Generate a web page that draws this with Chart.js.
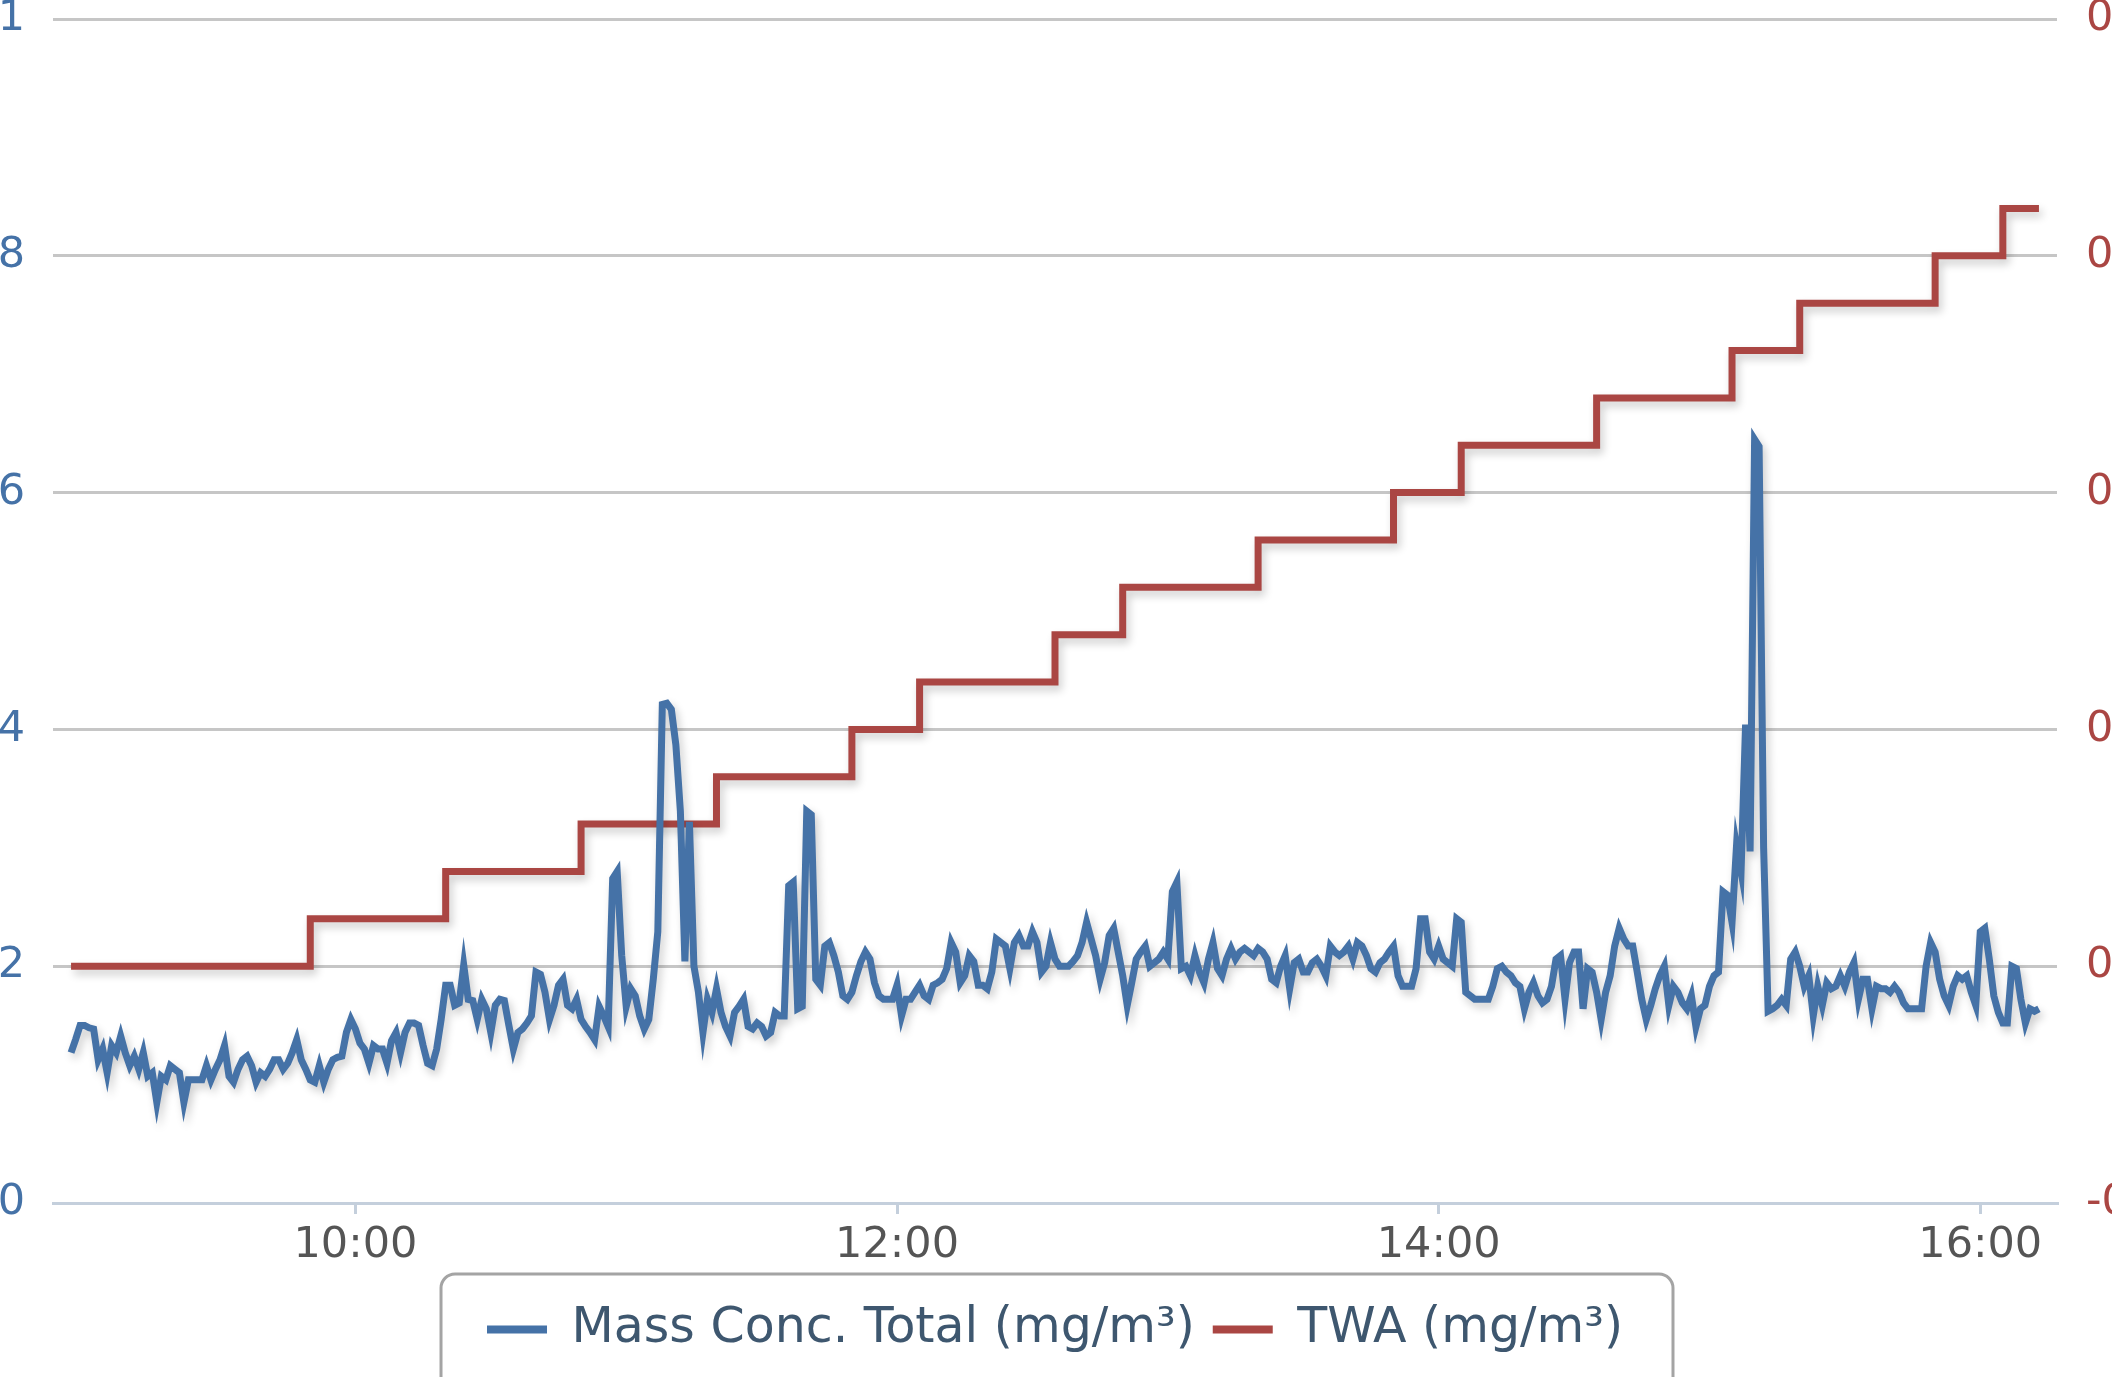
<!DOCTYPE html>
<html>
<head>
<meta charset="utf-8">
<script src="https://cdn.jsdelivr.net/npm/chart.js@4.4.1/dist/chart.umd.min.js"></script>
<style>
  html, body { margin: 0; padding: 0; background: #fff; overflow: hidden; width: 2112px; height: 1377px; }
  #wrap { position: absolute; left: -107px; top: 0; width: 2324px; height: 1377px; }
</style>
</head>
<body>
<div id="wrap"><canvas id="massChart"></canvas></div>
<script>
// one reading per minute, first one at massStart
const massStart = "08:57";
const massValues = [
  0.0127, 0.0138, 0.0150, 0.0150, 0.0148, 0.0147, 0.0121, 0.0130, 0.0110, 0.0133,
  0.0127, 0.0141, 0.0127, 0.0116, 0.0124, 0.0113, 0.0127, 0.0107, 0.0110, 0.0085,
  0.0107, 0.0104, 0.0116, 0.0113, 0.0110, 0.0085, 0.0104, 0.0104, 0.0104, 0.0104,
  0.0116, 0.0104, 0.0113, 0.0121, 0.0133, 0.0107, 0.0102, 0.0113, 0.0121, 0.0124,
  0.0116, 0.0102, 0.0110, 0.0107, 0.0113, 0.0121, 0.0121, 0.0113, 0.0118, 0.0127,
  0.0138, 0.0121, 0.0113, 0.0104, 0.0102, 0.0116, 0.0102, 0.0113, 0.0121, 0.0123,
  0.0124, 0.0144, 0.0155, 0.0147, 0.0135, 0.0130, 0.0118, 0.0133, 0.0130, 0.0130,
  0.0118, 0.0137, 0.0144, 0.0127, 0.0144, 0.0152, 0.0152, 0.0150, 0.0133, 0.0118,
  0.0116, 0.0130, 0.0155, 0.0184, 0.0184, 0.0167, 0.0169, 0.0201, 0.0172, 0.0171,
  0.0155, 0.0172, 0.0164, 0.0144, 0.0167, 0.0172, 0.0171, 0.0150, 0.0130, 0.0144,
  0.0147, 0.0152, 0.0158, 0.0195, 0.0193, 0.0178, 0.0155, 0.0167, 0.0184, 0.0189,
  0.0167,
  0.0164, 0.0172, 0.0155, 0.0149, 0.0144, 0.0138, 0.0166, 0.0158, 0.0149, 0.0274,
  0.0280, 0.0209, 0.0166, 0.0181, 0.0175, 0.0158, 0.0147, 0.0155, 0.0189, 0.0229,
  0.0421, 0.0422, 0.0417, 0.0387, 0.0331, 0.0204, 0.0322, 0.0200, 0.0178, 0.0144,
  0.0172, 0.0161, 0.0181, 0.0161, 0.0149, 0.0141, 0.0161, 0.0166, 0.0172, 0.0149,
  0.0147, 0.0152, 0.0149, 0.0141, 0.0144, 0.0161, 0.0158, 0.0158, 0.0268, 0.0271,
  0.0164, 0.0166, 0.0331, 0.0328, 0.0189, 0.0184, 0.0217, 0.0220, 0.0209, 0.0195,
  0.0175, 0.0172, 0.0178, 0.0192, 0.0204, 0.0212, 0.0206, 0.0186, 0.0175, 0.0172,
  0.0172, 0.0172, 0.0184, 0.0158, 0.0172, 0.0172, 0.0178, 0.0184, 0.0175, 0.0172,
  0.0184, 0.0186, 0.0189, 0.0198, 0.0220, 0.0212, 0.0186, 0.0192, 0.0209, 0.0204,
  0.0184, 0.0184, 0.0181, 0.0195, 0.0223, 0.0220, 0.0217, 0.0198, 0.0220, 0.0226,
  0.0217, 0.0217, 0.0229, 0.0220, 0.0195, 0.0200, 0.0220, 0.0206, 0.0200, 0.0200,
  0.0200, 0.0204, 0.0209,
  0.0220, 0.0237, 0.0223, 0.0209, 0.0189, 0.0203, 0.0226, 0.0232, 0.0212, 0.0192,
  0.0167, 0.0186, 0.0206, 0.0212, 0.0217, 0.0200, 0.0203, 0.0206, 0.0212, 0.0206,
  0.0263, 0.0271, 0.0198, 0.0200, 0.0192, 0.0209, 0.0195, 0.0186, 0.0206, 0.0220,
  0.0198, 0.0192, 0.0206, 0.0215, 0.0206, 0.0212, 0.0215, 0.0212, 0.0209, 0.0215,
  0.0212, 0.0206, 0.0189, 0.0186, 0.0200, 0.0209, 0.0181, 0.0203, 0.0206, 0.0195,
  0.0195, 0.0203, 0.0206, 0.0200, 0.0192, 0.0217, 0.0212, 0.0209, 0.0212, 0.0217,
  0.0206, 0.0220, 0.0217, 0.0209, 0.0198, 0.0195, 0.0203, 0.0206, 0.0212, 0.0217,
  0.0192, 0.0183, 0.0183, 0.0183, 0.0198, 0.0240, 0.0240, 0.0212, 0.0206, 0.0217,
  0.0206, 0.0203, 0.0200, 0.0240, 0.0237, 0.0178, 0.0175, 0.0172, 0.0172, 0.0172,
  0.0172, 0.0183, 0.0198, 0.0200, 0.0195, 0.0192, 0.0186, 0.0183, 0.0164, 0.0178,
  0.0186, 0.0175, 0.0169, 0.0172, 0.0183, 0.0206, 0.0209, 0.0172, 0.0203, 0.0212, 0.0212,
  0.0164, 0.0198, 0.0195, 0.0178, 0.0155, 0.0178, 0.0192, 0.0217, 0.0232, 0.0223,
  0.0217, 0.0217, 0.0195, 0.0172, 0.0155, 0.0167, 0.0181, 0.0192, 0.0200, 0.0167,
  0.0183, 0.0178, 0.0169, 0.0164, 0.0175, 0.0149, 0.0164, 0.0167, 0.0183, 0.0192,
  0.0195, 0.0263, 0.0260, 0.0237, 0.0302, 0.0280, 0.0404, 0.0297, 0.0645, 0.0639,
  0.0300, 0.0162, 0.0164, 0.0167, 0.0172, 0.0167, 0.0206, 0.0212, 0.0200, 0.0183,
  0.0192, 0.0158, 0.0183, 0.0167, 0.0186, 0.0181, 0.0183, 0.0192, 0.0183, 0.0195,
  0.0203, 0.0172, 0.0189, 0.0189, 0.0164, 0.0183, 0.0181, 0.0181, 0.0178, 0.0183,
  0.0178, 0.0169, 0.0164, 0.0164, 0.0164, 0.0164, 0.0200, 0.0220, 0.0212, 0.0189,
  0.0175, 0.0167, 0.0183, 0.0192, 0.0189, 0.0192, 0.0178, 0.0167, 0.0229, 0.0232,
  0.0206, 0.0175, 0.0161, 0.0152, 0.0152, 0.0200, 0.0198, 0.0172, 0.0152, 0.0164,
  0.0162, 0.0164
];

const twaTimes = ["08:57", "09:50", "10:20", "10:50", "11:20", "11:50", "12:05", "12:35", "12:50",
  "13:20", "13:50", "14:05", "14:35", "15:05", "15:20", "15:50", "16:05", "16:13"];
const twaValues = [0, 0.001, 0.002, 0.003, 0.004, 0.005, 0.006, 0.007, 0.008,
  0.009, 0.010, 0.011, 0.012, 0.013, 0.014, 0.015, 0.016, 0.016];

const xTickLabels = ["10:00", "12:00", "14:00", "16:00"];
const xRange = ["08:53", "16:17"];

function toMin(s) {
  var p = s.split(":");
  return parseInt(p[0], 10) * 60 + parseInt(p[1], 10);
}
function toHHMM(m) {
  var h = Math.floor(m / 60), mm = Math.round(m % 60);
  return (h < 10 ? "0" : "") + h + ":" + (mm < 10 ? "0" : "") + mm;
}

var massData = massValues.map((v, i) => ({ x: toMin(massStart) + i, y: v }));
var twaData = twaValues.map((v, i) => ({ x: toMin(twaTimes[i]), y: v }));

const lineShadow = {
  id: "lineShadow",
  beforeDatasetDraw(chart) {
    var c = chart.ctx;
    c.save();
    c.shadowColor = "rgba(0,0,0,0.2)";
    c.shadowBlur = 8;
    c.shadowOffsetX = 3;
    c.shadowOffsetY = 5;
  },
  afterDatasetDraw(chart) {
    chart.ctx.restore();
  }
};

const legendFrame = {
  id: "legendFrame",
  afterDraw(chart) {
    var lg = chart.legend;
    if (!lg || !lg.legendHitBoxes || !lg.legendHitBoxes.length) return;
    var hb = lg.legendHitBoxes;
    var left = hb[0].left - 46;
    var right = hb[hb.length - 1].left + hb[hb.length - 1].width + 50;
    var top = lg.top - 13;
    var ctx = chart.ctx;
    ctx.save();
    ctx.strokeStyle = "#a4a4a4";
    ctx.lineWidth = 3;
    ctx.beginPath();
    ctx.roundRect(left, top, right - left, 240, 14);
    ctx.stroke();
    ctx.restore();
  }
};

Chart.defaults.font.family = "'DejaVu Sans', Verdana, sans-serif";

ctx = document.getElementById("massChart").getContext("2d");
const myChart = new Chart(ctx, {
  type: "line",
  data: {
    datasets: [
      {
        label: "Mass Conc. Total (mg/m³)",
        data: massData,
        yAxisID: "y",
        borderColor: "#4572A7",
        backgroundColor: "#4572A7",
        borderWidth: 7,
        pointRadius: 0,
        tension: 0,
      },
      {
        label: "TWA (mg/m³)",
        data: twaData,
        yAxisID: "y1",
        borderColor: "#AA4643",
        backgroundColor: "#AA4643",
        borderWidth: 7,
        pointRadius: 0,
        stepped: true,
      },
    ],
  },
  options: {
    responsive: true,
    maintainAspectRatio: false,
    animation: false,
    layout: { padding: { top: 19, left: 0, right: 0, bottom: 13 } },
    plugins: {
      tooltip: { enabled: false },
      legend: {
        position: "bottom",
        labels: {
          boxWidth: 60,
          boxHeight: 8,
          padding: 18,
          color: "#3E576F",
          font: { size: 49 },
          generateLabels: function (chart) {
            var items = Chart.defaults.plugins.legend.labels.generateLabels(chart);
            items.forEach((it) => { it.lineWidth = 0; });
            return items;
          },
        },
      },
    },
    scales: {
      x: {
        type: "linear",
        min: toMin(xRange[0]),
        max: toMin(xRange[1]),
        afterBuildTicks: function (scale) {
          scale.ticks = xTickLabels.map((t) => ({ value: toMin(t) }));
        },
        afterFit: function (scale) {
          scale.height = 84;
        },
        ticks: {
          callback: (v) => toHHMM(v),
          color: "#555555",
          font: { size: 43 },
          padding: 6,
          maxRotation: 0,
          autoSkip: false,
        },
        grid: {
          drawOnChartArea: false,
          drawTicks: true,
          tickLength: 11,
          color: "#c4cfdc",
          lineWidth: 3,
        },
        border: { display: true, color: "#c4cfdc", width: 3 },
      },
      y: {
        position: "left",
        min: 0,
        max: 0.1,
        ticks: {
          stepSize: 0.02,
          callback: (v) => String(+v.toFixed(4)),
          color: "#4572A7",
          font: { size: 43 },
          padding: 28,
        },
        afterFit: function (scale) {
          scale.width = 160;
          scale.paddingTop = 0;
          scale.paddingBottom = 0;
        },
        grid: { color: "#c6c6c6", lineWidth: 3, drawTicks: false },
        border: { display: false },
      },
      y1: {
        position: "right",
        min: -0.005,
        max: 0.02,
        ticks: {
          stepSize: 0.005,
          callback: (v) => String(+v.toFixed(4)),
          color: "#AA4643",
          font: { size: 43 },
          padding: 29,
        },
        afterFit: function (scale) {
          scale.width = 160;
          scale.paddingTop = 0;
          scale.paddingBottom = 0;
        },
        grid: { drawOnChartArea: false, drawTicks: false },
        border: { display: false },
      },
    },
  },
  plugins: [lineShadow, legendFrame],
});
</script>
</body>
</html>
